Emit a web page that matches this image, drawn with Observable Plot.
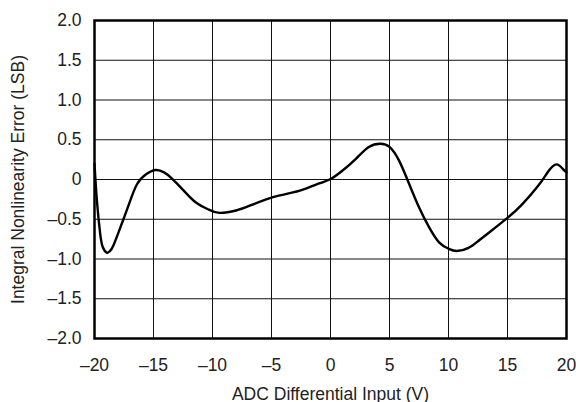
<!DOCTYPE html>
<html>
<head>
<meta charset="utf-8">
<script src="https://cdn.jsdelivr.net/npm/d3@7"></script>
<script src="https://cdn.jsdelivr.net/npm/@observablehq/plot@0.6"></script>
<style>
  html, body { margin: 0; padding: 0; background: #fff; }
  #chart svg { display: block; }
</style>
</head>
<body>
<div id="chart"></div>
<script>
const inputV = [-20, -19.8, -19.52, -19.3, -18.96, -18.7, -18.4, -17.7, -17.1, -16.4, -15.6, -14.8, -14.1, -13.5, -12.5, -11.4, -10.3, -9.4, -8.0, -6.85, -5.45, -4.3, -2.6, -0.95, 0.05, 1.0, 2.15, 3.25, 4.25, 5.0, 5.8, 6.65, 7.5, 8.35, 9.2, 10.0, 10.7, 11.7, 12.55, 13.5, 15.1, 16.2, 17.6, 18.45, 19.15, 19.7, 20.0];
const inlLSB = [0.2, -0.26, -0.68, -0.85, -0.92, -0.9, -0.83, -0.56, -0.32, -0.06, 0.07, 0.12, 0.09, 0.02, -0.13, -0.29, -0.38, -0.42, -0.39, -0.33, -0.25, -0.2, -0.14, -0.05, 0.01, 0.11, 0.26, 0.41, 0.45, 0.41, 0.24, -0.05, -0.35, -0.6, -0.79, -0.87, -0.9, -0.86, -0.77, -0.66, -0.47, -0.32, -0.08, 0.1, 0.19, 0.13, 0.09];
const xTicks = [-20, -15, -10, -5, 0, 5, 10, 15, 20];
const yTicks = [-2, -1.5, -1, -0.5, 0, 0.5, 1, 1.5, 2];
const xTitle = "ADC Differential Input (V)";
const yTitle = "Integral Nonlinearity Error (LSB)";

const data = inputV.map((x, i) => ({x, y: inlLSB[i]}));
const dash = s => s.replace("-", "\u2013");
const fmtX = d => dash(String(d));
const fmtY = d => d === 0 ? "0" : dash(d.toFixed(1));

const chart = Plot.plot({
  width: 576,
  height: 402,
  marginLeft: 94,
  marginRight: 10,
  marginTop: 20,
  marginBottom: 64,
  style: {fontFamily: "'Liberation Sans', Arial, sans-serif", fontSize: "18px", color: "#222", background: "#fff"},
  x: {domain: [-20, 20]},
  y: {domain: [-2, 2]},
  marks: [
    Plot.gridX(xTicks, {stroke: "#111", strokeOpacity: 1, strokeWidth: 1}),
    Plot.gridY(yTicks, {stroke: "#111", strokeOpacity: 1, strokeWidth: 1}),
    Plot.line(data, {x: "x", y: "y", curve: "natural", stroke: "#000", strokeWidth: 2.4}),
    Plot.frame({stroke: "#000", strokeWidth: 2.5}),
    Plot.axisX(xTicks, {tickSize: 0, tickPadding: 20, tickFormat: fmtX, fontSize: 17.5, label: xTitle, labelAnchor: "center", labelArrow: "none", labelOffset: 61}),
    Plot.axisY(yTicks, {tickSize: 0, tickPadding: 13, tickFormat: fmtY, fontSize: 17.5, label: yTitle, labelAnchor: "center", labelArrow: "none", labelOffset: 83})
  ]
});
document.getElementById("chart").appendChild(chart);
</script>
</body>
</html>
